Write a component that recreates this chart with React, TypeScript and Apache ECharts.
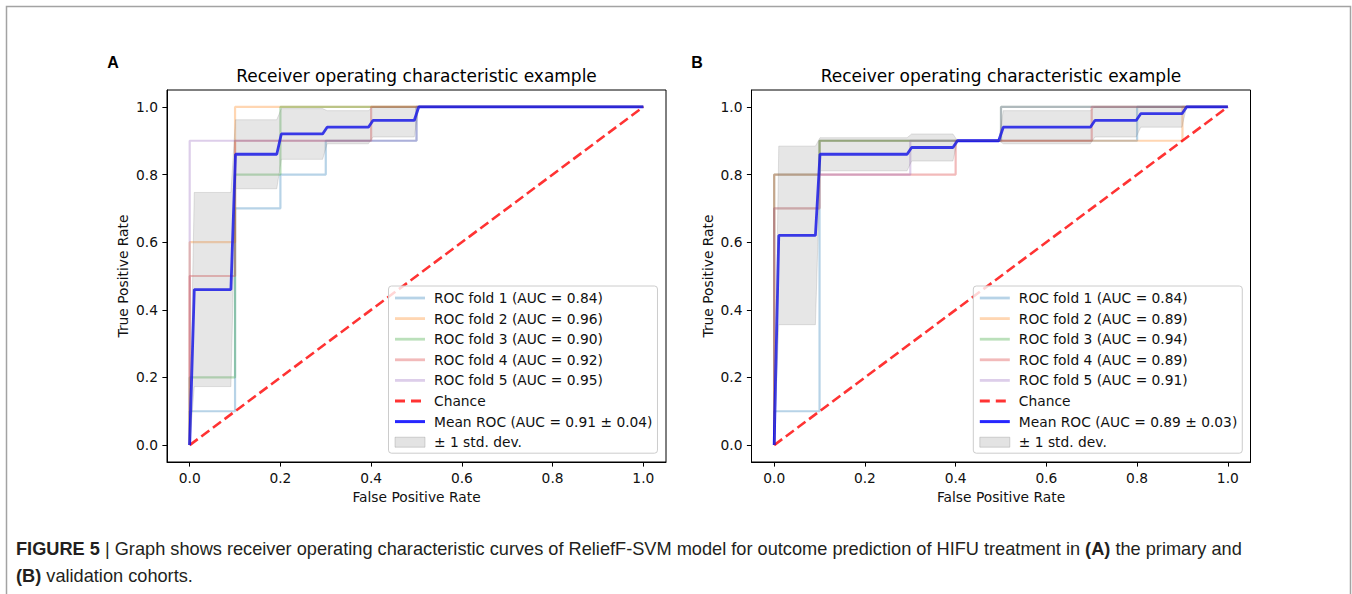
import React, { useEffect, useRef } from "react";
import * as echarts from "echarts";

// ---------- data ----------
const tickValues = [0, 0.2, 0.4, 0.6, 0.8, 1.0];
const chanceLine = [[0, 0], [1, 1]];
const foldColors = ["#1f77b4", "#ff7f0e", "#2ca02c", "#d62728", "#9467bd"];

// Panel A (primary cohort)
const aucA = ["0.84", "0.96", "0.90", "0.92", "0.95"];
const meanAucA = "0.91 ± 0.04";
const foldA1 = [[0, 0], [0, 0.1], [0.1, 0.1], [0.1, 0.7], [0.2, 0.7], [0.2, 0.8], [0.3, 0.8], [0.3, 0.9], [0.5, 0.9], [0.5, 1], [1, 1]];
const foldA2 = [[0, 0], [0, 0.6], [0.1, 0.6], [0.1, 1], [1, 1]];
const foldA3 = [[0, 0], [0, 0.2], [0.1, 0.2], [0.1, 0.8], [0.2, 0.8], [0.2, 1], [1, 1]];
const foldA4 = [[0, 0], [0, 0.5], [0.1, 0.5], [0.1, 0.9], [0.4, 0.9], [0.4, 1], [1, 1]];
const foldA5 = [[0, 0], [0, 0.9], [0.5, 0.9], [0.5, 1], [1, 1]];
const meanA = [[0, 0], [0.0101, 0.46], [0.0909, 0.46], [0.101, 0.86], [0.192, 0.86], [0.202, 0.92], [0.293, 0.92], [0.303, 0.94], [0.394, 0.94], [0.404, 0.96], [0.495, 0.96], [0.505, 1], [1, 1]];
const upperA = [[0, 0], [0.0101, 0.747], [0.0909, 0.747], [0.101, 0.962], [0.192, 0.962], [0.202, 0.995], [0.293, 0.995], [0.303, 0.989], [0.394, 0.989], [0.404, 1], [1, 1]];
const lowerA = [[0, 0], [0.0101, 0.173], [0.0909, 0.173], [0.101, 0.758], [0.192, 0.758], [0.202, 0.845], [0.293, 0.845], [0.303, 0.891], [0.394, 0.891], [0.404, 0.911], [0.495, 0.911], [0.505, 1], [1, 1]];

// Panel B (validation cohort)
const aucB = ["0.84", "0.89", "0.94", "0.89", "0.91"];
const meanAucB = "0.89 ± 0.03";
const foldB1 = [[0, 0], [0, 0.1], [0.1, 0.1], [0.1, 0.9], [0.8, 0.9], [0.8, 1], [1, 1]];
const foldB2 = [[0, 0], [0, 0.7], [0.1, 0.7], [0.1, 0.9], [0.9, 0.9], [0.9, 1], [1, 1]];
const foldB3 = [[0, 0], [0, 0.8], [0.1, 0.8], [0.1, 0.9], [0.5, 0.9], [0.5, 1], [1, 1]];
const foldB4 = [[0, 0], [0, 0.8], [0.1, 0.8], [0.4, 0.8], [0.4, 0.9], [0.7, 0.9], [0.7, 1], [1, 1]];
const foldB5 = [[0, 0], [0, 0.7], [0.1, 0.7], [0.1, 0.8], [0.3, 0.8], [0.3, 0.9], [0.5, 0.9], [0.5, 1], [1, 1]];
const meanB = [[0, 0], [0.0101, 0.62], [0.0909, 0.62], [0.101, 0.86], [0.293, 0.86], [0.303, 0.88], [0.394, 0.88], [0.404, 0.9], [0.495, 0.9], [0.505, 0.94], [0.697, 0.94], [0.707, 0.96], [0.798, 0.96], [0.808, 0.98], [0.899, 0.98], [0.909, 1], [1, 1]];
const upperB = [[0, 0], [0.0101, 0.884], [0.0909, 0.884], [0.101, 0.909], [0.293, 0.909], [0.303, 0.92], [0.394, 0.92], [0.404, 0.9], [0.495, 0.9], [0.505, 0.989], [0.697, 0.989], [0.707, 1], [1, 1]];
const lowerB = [[0, 0], [0.0101, 0.356], [0.0909, 0.356], [0.101, 0.811], [0.293, 0.811], [0.303, 0.84], [0.394, 0.84], [0.404, 0.9], [0.495, 0.9], [0.505, 0.891], [0.697, 0.891], [0.707, 0.911], [0.798, 0.911], [0.808, 0.94], [0.899, 0.94], [0.909, 1], [1, 1]];

const titleText = "Receiver operating characteristic example";
const captionText =
  "{b|FIGURE 5} | Graph shows receiver operating characteristic curves of ReliefF-SVM model for outcome prediction of HIFU treatment in {b|(A)} the primary and\n{b|(B)} validation cohorts.";

// ---------- styling ----------
const AX_FONT = "DejaVu Sans";
const AX_SIZE = 13.8;
const GRID_TOP = 90;
const GRID_H = 372;
const GRID_W = 499;
const GRID_LEFT = [167, 751.5];

function hexA(hex: string, a: number) {
  const r = parseInt(hex.slice(1, 3), 16);
  const g = parseInt(hex.slice(3, 5), 16);
  const b = parseInt(hex.slice(5, 7), 16);
  return `rgba(${r},${g},${b},${a})`;
}

const hiddenSymbol = { opacity: 0 };

function buildPanel(idx: number, folds: number[][][], aucs: string[], mean: number[][], meanAuc: string, upper: number[][], lower: number[][]) {
  const series: any[] = [];
  const legendData: any[] = [];
  folds.forEach((d, i) => {
    const name = `ROC fold ${i + 1} (AUC = ${aucs[i]})`;
    const c = hexA(foldColors[i], 0.32);
    series.push({
      type: "line",
      name,
      xAxisIndex: idx,
      yAxisIndex: idx,
      data: d,
      symbol: "none",
      showSymbol: false,
      lineStyle: { color: c, width: 2.2 },
      itemStyle: { color: c },
      emphasis: { disabled: true },
      silent: true,
      z: 2,
    });
    legendData.push({ name, lineStyle: { width: 2.8 }, itemStyle: hiddenSymbol });
  });
  series.push({
    type: "line",
    name: "Chance",
    xAxisIndex: idx,
    yAxisIndex: idx,
    data: chanceLine,
    symbol: "none",
    showSymbol: false,
    lineStyle: { color: "rgba(255,0,0,0.8)", width: 2.6, type: [10, 4.5] },
    itemStyle: { color: "rgba(255,0,0,0.8)" },
    emphasis: { disabled: true },
    silent: true,
    z: 3,
  });
  legendData.push({ name: "Chance", lineStyle: { width: 2.8, type: [10, 6] }, itemStyle: hiddenSymbol });
  const meanName = `Mean ROC (AUC = ${meanAuc})`;
  series.push({
    type: "line",
    name: meanName,
    xAxisIndex: idx,
    yAxisIndex: idx,
    data: mean,
    symbol: "none",
    showSymbol: false,
    lineStyle: { color: "rgba(0,0,255,0.85)", width: 2.8 },
    itemStyle: { color: "rgba(0,0,255,0.85)" },
    emphasis: { disabled: true },
    silent: true,
    z: 4,
  });
  legendData.push({ name: meanName, lineStyle: { width: 3 }, itemStyle: hiddenSymbol });
  series.push({
    type: "custom",
    name: "± 1 std. dev.",
    xAxisIndex: idx,
    yAxisIndex: idx,
    data: [[0, 0]],
    silent: true,
    z: 5,
    itemStyle: { color: "rgba(128,128,128,0.22)" },
    renderItem: (_params: any, api: any) => {
      const pts = upper.map((p) => api.coord(p)).concat(lower.slice().reverse().map((p) => api.coord(p)));
      return {
        type: "polygon",
        shape: { points: pts },
        style: { fill: "rgba(128,128,128,0.2)", stroke: "rgba(128,128,128,0.22)", lineWidth: 1 },
      };
    },
  });
  legendData.push({
    name: "± 1 std. dev.",
    icon: "rect",
    itemStyle: { color: "rgba(128,128,128,0.22)", borderColor: "rgba(128,128,128,0.3)", borderWidth: 1 },
  });
  return { series, legendData };
}

function axisCommon(idx: number, isX: boolean) {
  return {
    type: "value",
    gridIndex: idx,
    min: -0.05,
    max: 1.05,
    name: isX ? "False Positive Rate" : "True Positive Rate",
    nameLocation: "middle",
    nameGap: isX ? 28 : 37,
    nameTextStyle: { fontFamily: AX_FONT, fontSize: AX_SIZE, color: "#111" },
    axisLine: { show: true, onZero: false, lineStyle: { color: "#000", width: 1 } },
    axisTick: { show: true, inside: false, length: 4.6, lineStyle: { color: "#000", width: 1 }, customValues: tickValues },
    axisLabel: {
      show: true,
      margin: 9,
      fontFamily: AX_FONT,
      fontSize: AX_SIZE,
      color: "#111",
      customValues: tickValues,
      formatter: (v: number) => v.toFixed(1),
    },
    splitLine: { show: false },
  };
}

export default function App() {
  const ref = useRef<HTMLDivElement>(null);
  useEffect(() => {
    if (!ref.current) return;
    const chart = echarts.init(ref.current, null, { renderer: "svg" });
    const pA = buildPanel(0, [foldA1, foldA2, foldA3, foldA4, foldA5], aucA, meanA, meanAucA, upperA, lowerA);
    const pB = buildPanel(1, [foldB1, foldB2, foldB3, foldB4, foldB5], aucB, meanB, meanAucB, upperB, lowerB);

    const legendCommon = {
      orient: "vertical",
      top: 286,
      itemWidth: 30,
      itemHeight: 10,
      itemGap: 6.6,
      padding: [5, 5, 4, 5],
      backgroundColor: "rgba(255,255,255,0.8)",
      borderColor: "#cccccc",
      borderWidth: 1,
      borderRadius: 3,
      selectedMode: false,
      textStyle: { fontFamily: AX_FONT, fontSize: AX_SIZE, color: "#111", lineHeight: 14, padding: [0, 0, 0, 4] },
    };

    const titleStyle = { fontFamily: AX_FONT, fontSize: 17, fill: "#000", textAlign: "center", textVerticalAlign: "middle" };

    chart.setOption({
      animation: false,
      backgroundColor: "#fff",
      grid: GRID_LEFT.map((l) => ({
        left: l,
        top: GRID_TOP,
        width: GRID_W,
        height: GRID_H,
        show: true,
        borderColor: "#000",
        borderWidth: 1,
        backgroundColor: "transparent",
        containLabel: false,
      })),
      xAxis: [axisCommon(0, true), axisCommon(1, true)],
      yAxis: [axisCommon(0, false), axisCommon(1, false)],
      legend: [
        { ...legendCommon, left: 388.5, data: pA.legendData },
        { ...legendCommon, left: 973.3, data: pB.legendData },
      ],
      series: [...pA.series, ...pB.series],
      graphic: [
        {
          type: "rect",
          silent: true,
          shape: { x: 6.5, y: 6.5, width: 1344, height: 620 },
          style: { fill: "none", stroke: "#a3a3a3", lineWidth: 1.5 },
        },
        { type: "text", silent: true, x: GRID_LEFT[0] + GRID_W / 2, y: 76, style: { ...titleStyle, text: titleText } },
        { type: "text", silent: true, x: GRID_LEFT[1] + GRID_W / 2, y: 76, style: { ...titleStyle, text: titleText } },
        {
          type: "text",
          silent: true,
          x: 113,
          y: 62,
          style: { text: "A", fontFamily: "Liberation Sans", fontWeight: "bold", fontSize: 16, fill: "#000", textAlign: "center", textVerticalAlign: "middle" },
        },
        {
          type: "text",
          silent: true,
          x: 697,
          y: 62,
          style: { text: "B", fontFamily: "Liberation Sans", fontWeight: "bold", fontSize: 16, fill: "#000", textAlign: "center", textVerticalAlign: "middle" },
        },
        {
          type: "text",
          silent: true,
          x: 16,
          y: 535.5,
          style: {
            text: captionText,
            fontFamily: "Liberation Sans",
            fontSize: 18.2,
            lineHeight: 27,
            fill: "#231f20",
            textAlign: "left",
            textVerticalAlign: "top",
            rich: {
              b: { fontFamily: "Liberation Sans", fontWeight: "bold", fontSize: 18.2, lineHeight: 27, fill: "#231f20" },
            },
          },
        },
      ],
    });
    return () => chart.dispose();
  }, []);
  return <div ref={ref} style={{ position: "absolute", left: 0, top: 0, width: 1352, height: 594 }} />;
}
